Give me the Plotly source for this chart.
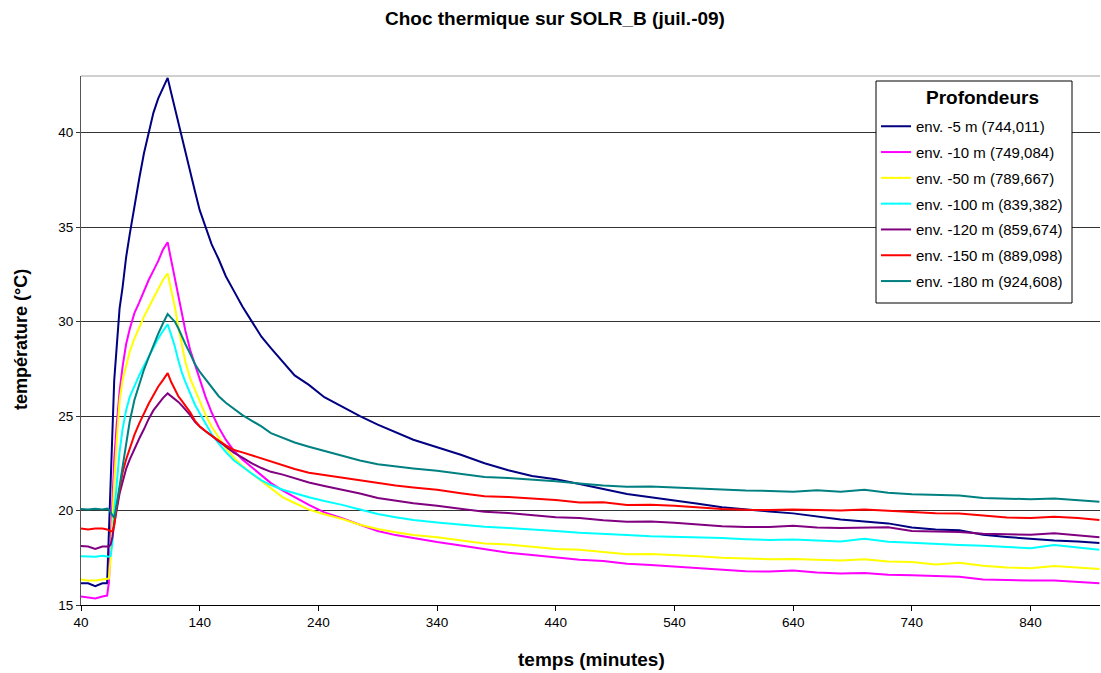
import plotly.graph_objects as go

# Temps de mesure (minutes)
temps = [40, 46, 52, 58, 62, 63.5, 65, 66.5, 68, 70,
         72.5, 75, 78, 81, 85, 89, 93, 97, 101, 105,
         109, 113, 116, 119, 122, 125, 128, 132, 136, 140,
         145, 150, 156, 162, 169, 176, 184, 192, 200, 210,
         220, 232, 245, 260, 275, 290, 305, 320, 340, 360,
         380, 400, 420, 440, 460, 480, 500, 520, 540, 560,
         580, 600, 620, 640, 660, 680, 700, 720, 740, 760,
         780, 800, 820, 840, 860, 880, 898]

# Températures (°C) par profondeur
t_5m = [16.15, 16.15, 16.0, 16.15, 16.15, 19.0, 21.8, 24.6, 26.9, 28.6,
        30.7, 31.8, 33.4, 34.6, 36.15, 37.55, 38.9, 39.95, 41.05, 41.8,
        42.4, 42.9, 42.1, 41.3, 40.5, 39.7, 38.9, 37.9, 36.9, 35.9,
        35.0, 34.1, 33.3, 32.4, 31.6, 30.8, 30.0, 29.2, 28.6, 27.9,
        27.15, 26.65, 26.0, 25.5, 25.0, 24.55, 24.15, 23.75, 23.35, 22.95,
        22.5, 22.13, 21.83, 21.65, 21.4, 21.14, 20.87, 20.7, 20.54, 20.36,
        20.18, 20.05, 19.95, 19.85, 19.68, 19.52, 19.42, 19.32, 19.1, 19.0,
        18.95, 18.72, 18.6, 18.5, 18.41, 18.36, 18.28]

t_10m = [15.45, 15.4, 15.35, 15.45, 15.5, 16.2, 18.6, 20.9, 22.7, 24.5,
         26.3, 27.6, 28.8, 29.6, 30.45, 31.0, 31.65, 32.2, 32.7, 33.2,
         33.8, 34.2, 33.25, 32.3, 31.3, 30.4, 29.5, 28.5, 27.7, 26.95,
         26.0, 25.2, 24.4, 23.75, 23.15, 22.7, 22.3, 21.85, 21.45, 21.05,
         20.7, 20.3, 19.9, 19.6, 19.25, 18.92, 18.7, 18.53, 18.33, 18.15,
         17.97, 17.77, 17.65, 17.53, 17.4, 17.33, 17.18, 17.12, 17.03, 16.94,
         16.85, 16.78, 16.77, 16.82, 16.72, 16.67, 16.7, 16.6, 16.58, 16.55,
         16.5, 16.35, 16.32, 16.3, 16.3, 16.22, 16.15]

t_50m = [16.35, 16.3, 16.3, 16.35, 16.35, 16.4, 17.5, 19.8, 21.5, 23.6,
         25.8, 26.9, 27.7, 28.4, 29.1, 29.7, 30.25, 30.75, 31.25, 31.75,
         32.2, 32.55, 31.7, 30.8, 29.7, 28.7, 27.85, 27.0, 26.4, 25.8,
         25.05, 24.45, 23.85, 23.3, 22.8, 22.35, 21.95, 21.55, 21.15, 20.7,
         20.4, 20.05, 19.8, 19.55, 19.25, 19.02, 18.85, 18.7, 18.58, 18.42,
         18.25, 18.2, 18.08, 17.97, 17.92, 17.8, 17.69, 17.7, 17.65, 17.58,
         17.5, 17.45, 17.42, 17.43, 17.4, 17.35, 17.42, 17.3, 17.27, 17.14,
         17.24, 17.08, 16.98, 16.95, 17.06, 16.96, 16.9]

t_100m = [17.58, 17.55, 17.55, 17.6, 17.55, 17.55, 17.6, 18.3, 19.9, 21.5,
          23.1, 24.3, 25.3, 26.0, 26.6, 27.15, 27.65, 28.15, 28.65, 29.1,
          29.5, 29.85, 29.3, 28.7, 27.95, 27.3, 26.8, 26.15, 25.6, 25.15,
          24.6, 24.05, 23.55, 23.1, 22.65, 22.3, 21.95, 21.6, 21.35, 21.1,
          20.9, 20.7, 20.5, 20.3, 20.05, 19.82, 19.65, 19.5, 19.37, 19.25,
          19.14, 19.07, 19.0, 18.92, 18.82, 18.78, 18.71, 18.64, 18.62, 18.6,
          18.54, 18.48, 18.44, 18.47, 18.4, 18.36, 18.5, 18.35, 18.29, 18.22,
          18.18, 18.14, 18.06, 18.0, 18.17, 18.02, 17.92]

t_120m = [18.12, 18.1, 17.97, 18.1, 18.1, 18.1, 18.2, 18.6, 19.3, 20.1,
          20.9, 21.5, 22.2, 22.7, 23.3, 23.8, 24.3, 24.85, 25.3, 25.65,
          25.95, 26.2, 26.05, 25.9, 25.75, 25.55, 25.35, 25.05, 24.7, 24.45,
          24.2, 23.95, 23.65, 23.35, 23.05, 22.8, 22.5, 22.25, 22.05, 21.9,
          21.7, 21.48, 21.3, 21.12, 20.9, 20.66, 20.5, 20.38, 20.25, 20.1,
          19.93, 19.87, 19.75, 19.65, 19.6, 19.48, 19.41, 19.42, 19.36, 19.28,
          19.17, 19.13, 19.13, 19.2, 19.1, 19.07, 19.08, 19.11, 18.92, 18.88,
          18.87, 18.77, 18.73, 18.72, 18.8, 18.67, 18.58]

t_150m = [19.05, 19.0, 19.05, 19.05, 19.0, 18.95, 18.9, 18.9, 19.2, 20.2,
          21.2, 22.0, 22.7, 23.3, 24.0, 24.6, 25.15, 25.65, 26.1, 26.55,
          26.9, 27.27, 26.8, 26.4, 26.05, 25.8, 25.55, 25.2, 24.75, 24.45,
          24.2, 23.95, 23.7, 23.45, 23.2, 23.08, 22.92, 22.75, 22.58, 22.37,
          22.2, 22.0, 21.88, 21.73, 21.6, 21.45, 21.33, 21.22, 21.1, 20.92,
          20.76, 20.72, 20.64, 20.56, 20.42, 20.44, 20.29, 20.3, 20.25, 20.16,
          20.08, 20.04, 20.03, 20.06, 20.02, 20.0, 20.05, 19.99, 19.9, 19.86,
          19.84, 19.72, 19.63, 19.6, 19.67, 19.6, 19.5]

t_180m = [20.08, 20.05, 20.1, 20.05, 20.1, 20.05, 19.9, 19.75, 19.6, 20.3,
          21.3, 22.4, 23.7, 24.7, 25.85, 26.7, 27.45, 28.1, 28.75, 29.35,
          29.9, 30.4, 30.2, 30.0, 29.65, 29.2, 28.8, 28.3, 27.75, 27.35,
          26.95, 26.5, 26.05, 25.7, 25.35, 25.05, 24.75, 24.45, 24.1, 23.85,
          23.6, 23.38, 23.15, 22.9, 22.65, 22.45, 22.32, 22.23, 22.1, 21.95,
          21.77, 21.72, 21.65, 21.55, 21.43, 21.32, 21.26, 21.27, 21.22, 21.16,
          21.09, 21.06, 21.04, 20.99, 21.08, 21.0, 21.1, 20.94, 20.86, 20.82,
          20.8, 20.66, 20.61, 20.6, 20.64, 20.55, 20.46]

noms = ["env. -5 m (744,011)", "env. -10 m (749,084)", "env. -50 m (789,667)",
        "env. -100 m (839,382)", "env. -120 m (859,674)", "env. -150 m (889,098)",
        "env. -180 m (924,608)"]
series = [t_5m, t_10m, t_50m, t_100m, t_120m, t_150m, t_180m]
couleurs = ["#000080", "#FF00FF", "#FFFF00", "#00FFFF", "#800080", "#FF0000", "#008080"]

x_ticks = [40, 140, 240, 340, 440, 540, 640, 740, 840]
y_ticks = [15, 20, 25, 30, 35, 40]

FONT = "Arial, 'Liberation Sans', sans-serif"

fig = go.Figure()
for i, (nom, vals, col) in enumerate(zip(noms, series, couleurs)):
    fig.add_trace(go.Scatter(
        x=temps, y=vals, mode="lines", name=nom,
        line=dict(color=col, width=2),
        legendgroup=f"g{i}",
    ))

# plot area geometry (pixels)
L, R, T, B = 81, 1, 76, 68
W, H = 1101, 673
pw, ph = W - L - R, H - T - B

def px_x(px):
    return (px - L) / pw

def px_y(py):
    return (H - B - py) / ph

# legend frame (pixels)
LX0, LX1, LY0, LY1 = 876, 1072, 81, 303

fig.update_layout(
    width=W, height=H,
    margin=dict(l=L, r=R, t=T, b=B, pad=0),
    paper_bgcolor="white", plot_bgcolor="white",
    font=dict(family=FONT, size=14, color="black"),
    showlegend=True,
    legend=dict(
        x=px_x(LX0), y=px_y(110), xanchor="left", yanchor="top",
        bgcolor="rgba(0,0,0,0)", borderwidth=0,
        font=dict(family=FONT, size=15, color="black"),
        tracegroupgap=3.3, itemwidth=30, traceorder="grouped",
    ),
    xaxis=dict(
        range=[40, 898.5], tickmode="array", tickvals=x_ticks,
        ticktext=[str(v) for v in x_ticks],
        showgrid=False, zeroline=False,
        showline=True, linecolor="black", linewidth=1,
        ticks="outside", ticklen=5, tickcolor="black",
        tickfont=dict(family=FONT, size=13.5, color="black"),
    ),
    yaxis=dict(
        range=[15, 43], tickmode="array", tickvals=y_ticks,
        showgrid=True, gridcolor="#333333", gridwidth=1,
        zeroline=False,
        showline=True, linecolor="#555555", linewidth=1,
        ticks="outside", ticklen=4, tickcolor="#333333",
        tickfont=dict(family=FONT, size=13.5, color="black"),
    ),
    annotations=[
        dict(text="<b>Choc thermique sur SOLR_B (juil.-09)</b>", xref="paper", yref="paper",
             x=px_x(555), y=px_y(18), xanchor="center", yanchor="middle", showarrow=False,
             font=dict(family=FONT, size=19, color="black")),
        dict(text="<b>temps (minutes)</b>", xref="paper", yref="paper",
             x=px_x(591), y=px_y(660), xanchor="center", yanchor="middle", showarrow=False,
             font=dict(family=FONT, size=19, color="black")),
        dict(text="<b>température (°C)</b>", xref="paper", yref="paper",
             x=px_x(21), y=px_y(340), xanchor="center", yanchor="middle", showarrow=False,
             textangle=-90, font=dict(family=FONT, size=18, color="black")),
        dict(text="<b>Profondeurs</b>", xref="paper", yref="paper",
             x=px_x(982), y=px_y(98), xanchor="center", yanchor="middle", showarrow=False,
             font=dict(family=FONT, size=19, color="black")),
    ],
    shapes=[
        # plot area top border
        dict(type="line", xref="paper", yref="paper", x0=0, x1=1, y0=1, y1=1,
             line=dict(color="#a0a0a0", width=1)),
        # legend frame
        dict(type="rect", xref="paper", yref="paper", layer="above",
             x0=px_x(LX0), x1=px_x(LX1), y0=px_y(LY1), y1=px_y(LY0),
             fillcolor="white", line=dict(color="black", width=1)),
    ],
)

fig.write_html("out.html")
